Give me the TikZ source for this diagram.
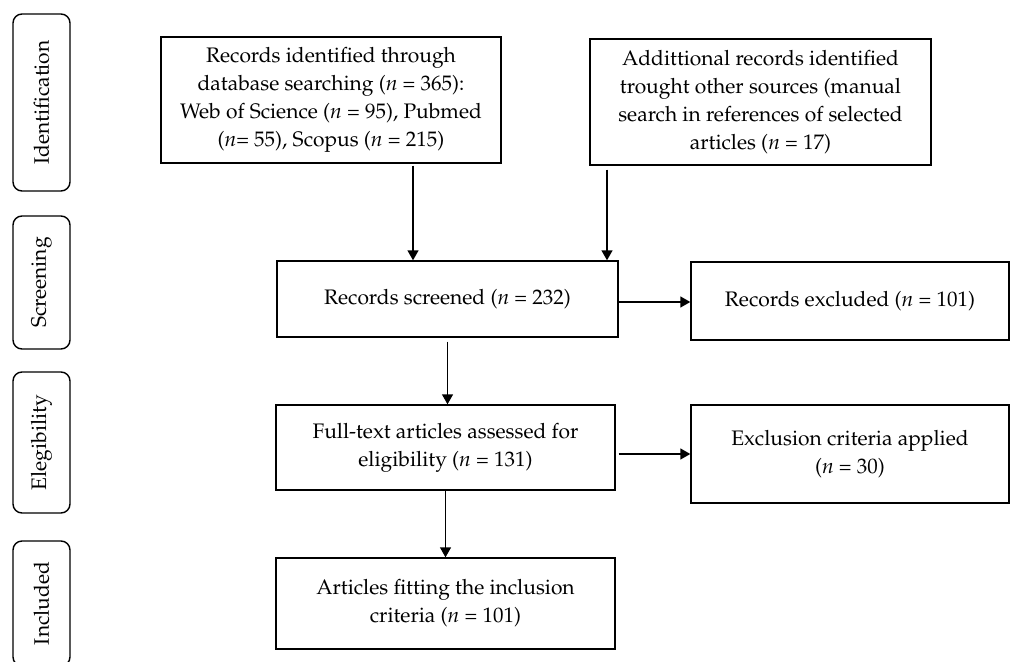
\documentclass[tikz,border=0pt]{standalone}
\usepackage[T1]{fontenc}
\usepackage{mathpazo}
\usetikzlibrary{arrows.meta,calc}
\begin{document}
\begin{tikzpicture}[x=1pt,y=-1pt,
  txt/.style={font=\fontsize{21}{28}\selectfont},
  box/.style={draw,line width=1.4pt,inner sep=0pt,align=center,txt},
  side/.style={draw,line width=1.4pt,rounded corners=9pt,inner sep=0pt,rotate=90,txt},
  arr/.style={line width=1.4pt,-{Triangle[length=10pt,width=11pt]}}]
\useasboundingbox (0,0) rectangle (1011,661);
\clip (0,0) rectangle (1011,661);
% side labels
\node[side,minimum width=177pt,minimum height=57pt] (s1) at (41.5,102.5) {Identification};
\node[side,minimum width=133pt,minimum height=57pt] (s2) at (41.5,282.5) {Screening};
\node[side,minimum width=141pt,minimum height=57pt] (s3) at (41.5,442.5) {Elegibility};
\node[side,minimum width=125pt,minimum height=57pt] (s4) at (41.5,603.5) {Included};
% boxes
\node[box,minimum width=340pt,minimum height=126pt] (b1) at (331,100) {Records identified through\\database searching (\textit{n} = 365):\\Web of Science (\textit{n} = 95), Pubmed\\(\textit{n}= 55), Scopus (\textit{n} = 215)};
\node[box,minimum width=341pt,minimum height=126pt] (b2) at (760.5,102) {Addittional records identified\\trought other sources (manual\\search in references of selected\\articles (\textit{n} = 17)};
\node[box,minimum width=341pt,minimum height=76pt] (b3) at (447.5,299) {Records screened (\textit{n} = 232)};
\node[box,minimum width=318pt,minimum height=78pt] (b4) at (850,301) {Records excluded (\textit{n} = 101)};
\node[box,minimum width=339pt,minimum height=85pt] (b5) at (445.5,447.5) {Full-text articles assessed for\\eligibility (\textit{n} = 131)};
\node[box,minimum width=318pt,minimum height=98pt] (b6) at (850,454) {Exclusion criteria applied\\(\textit{n} = 30)};
\node[box,minimum width=339pt,minimum height=91pt] (b7) at (445.5,603.5) {Articles fitting the inclusion\\criteria (\textit{n} = 101)};
% connectors
\coordinate (a1) at (413,0);
\coordinate (a2) at (607,0);
\coordinate (a3) at (0,302);
\draw[arr,shorten <=2pt] (b1.south -| a1) -- (b3.north -| a1);
\draw[arr,shorten <=4pt] (b2.south -| a2) -- (b3.north -| a2);
\draw[arr] (b3.east |- a3) -- (b4.west |- a3);
\draw[arr,shorten <=4pt] (b3.south) -- (b3.south |- b5.north);
\draw[arr,shorten <=3pt] (b6.west -| b5.east) -- (b6.west);
\draw[arr] (b5.south) -- (b5.south |- b7.north);
\end{tikzpicture}
\end{document}
